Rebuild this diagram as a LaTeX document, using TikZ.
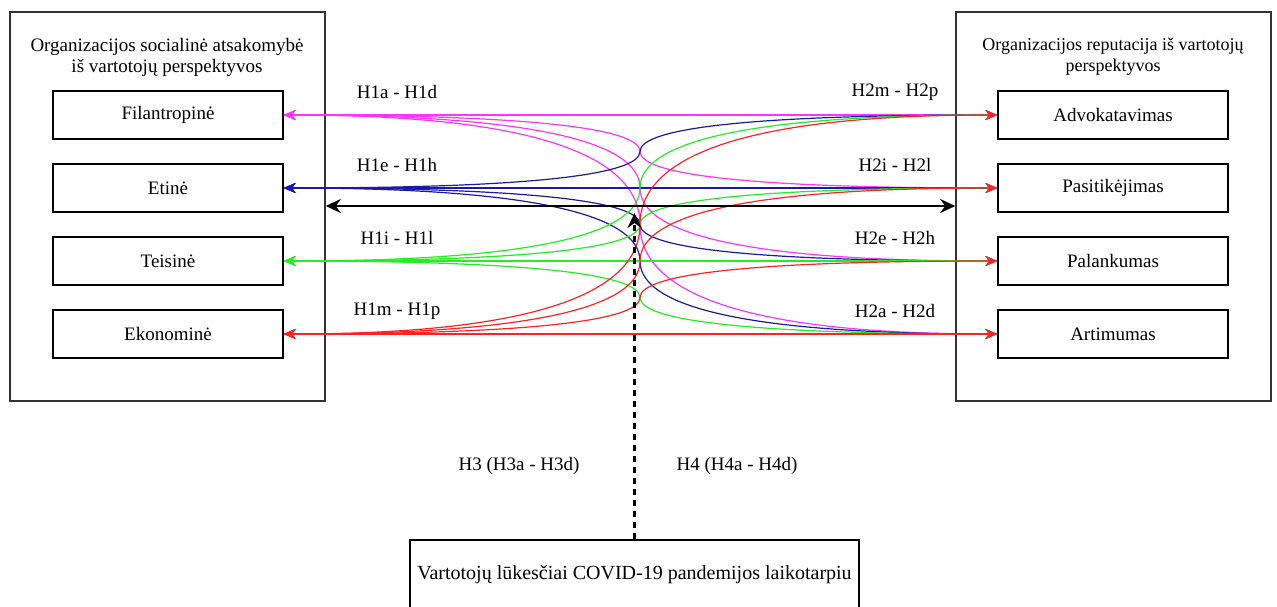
\documentclass[tikz,border=0pt]{standalone}
\usepackage{fontspec}
\setmainfont{Liberation Serif}
\usetikzlibrary{arrows.meta, calc}
\definecolor{filcol}{HTML}{FF33FF}
\definecolor{etcol}{HTML}{1A1AA6}
\definecolor{teicol}{HTML}{22EE22}
\definecolor{ekocol}{HTML}{FF2222}

\begin{document}
\begin{tikzpicture}[
    x=1pt, y=-1pt,
    box/.style={draw, line width=1.2pt, minimum width=230pt, minimum height=48pt, font=\fontsize{19}{22}\selectfont},
    frame/.style={draw=black!80, line width=1.6pt, minimum width=315pt, minimum height=389pt},
    title/.style={align=center, font=\fontsize{19}{21}\selectfont},
    lbl/.style={font=\fontsize{19}{22}\selectfont},
    link/.style={line width=1.2pt, {Stealth[length=12pt, width=10pt, inset=3.5pt]}-{Stealth[length=12pt, width=10pt, inset=3.5pt]}},
    arr/.style={line width=2.4pt, -{Stealth[length=15pt, width=14pt, inset=5pt]}}
]
    \useasboundingbox (0,0) rectangle (1277,607);

    % --- Two outer frames ---
    \node[frame] (lcont) at (167.5,206.5) {};
    \node[frame] (rcont) at (1113.5,206.5) {};
    \node[title] (ltitle) at (167,57.5) {Organizacijos socialinė atsakomybė\\iš vartotojų perspektyvos};
    \node[title, font=\fontsize{18}{21}\selectfont] (rtitle) at (1113,56.5) {Organizacijos reputacija iš vartotojų\\perspektyvos};

    % --- Left column: CSR dimensions ---
    \node[box] (l1) at (168,115) {Filantropinė};
    \node[box] (l2) at (168,188) {Etinė};
    \node[box] (l3) at (168,261) {Teisinė};
    \node[box] (l4) at (168,334) {Ekonominė};

    % --- Right column: reputation dimensions ---
    \node[box] (r1) at (1113,115) {Advokatavimas};
    \node[box] (r2) at (1113,188) {Pasitikėjimas};
    \node[box] (r3) at (1113,261) {Palankumas};
    \node[box] (r4) at (1113,334) {Artimumas};

    % --- Curved links, every left box to every right box ---
    \foreach \i/\c in {1/filcol,2/etcol,3/teicol,4/ekocol}
      \foreach \j in {1,...,4} {
        \pgfmathsetmacro\ya{42+73*\i}
        \pgfmathsetmacro\yb{42+73*\j}
        \pgfmathsetmacro\ym{(\ya+\yb)/2}
        \draw[link, \c] (l\i.east) .. controls (521,\ya) and (640,{(2*\ya+\ym)/3}) .. (640,\ym)
            .. controls (640,{(2*\yb+\ym)/3}) and (759,\yb) .. (r\j.west);
      }

    % --- Hypothesis labels ---
    \node[lbl] (h1a) at (397,92) {H1a - H1d};
    \node[lbl] (h1e) at (397,165) {H1e - H1h};
    \node[lbl] (h1i) at (397,238) {H1i - H1l};
    \node[lbl] (h1m) at (397,311) {H1m - H1p};
    \node[lbl] (h2m) at (895,92) {H2m - H2p};
    \node[lbl] (h2i) at (895,165) {H2i - H2l};
    \node[lbl] (h2e) at (895,238) {H2e - H2h};
    \node[lbl] (h2a) at (895,311) {H2a - H2d};

    % --- Black double arrow between frames ---
    \coordinate (axis) at (640,206);
    \draw[arr, {Stealth[length=15pt, width=14pt, inset=5pt]}-{Stealth[length=15pt, width=14pt, inset=5pt]}] (lcont.east |- axis) -- (rcont.west |- axis);

    % --- Moderator box and dashed arrow ---
    \node[box, minimum width=449pt, minimum height=70pt, font=\fontsize{20}{22}\selectfont] (covid) at (634.5,575) {Vartotojų lūkesčiai COVID-19 pandemijos laikotarpiu};
    \coordinate (tip) at (634.5,213);
    \draw[arr, dash pattern=on 6pt off 5pt] (covid.north) -- (tip);
    \node[lbl] (h3) at (519,466) {H3 (H3a - H3d)};
    \node[lbl] (h4) at (737,466) {H4 (H4a - H4d)};
\end{tikzpicture}
\end{document}
